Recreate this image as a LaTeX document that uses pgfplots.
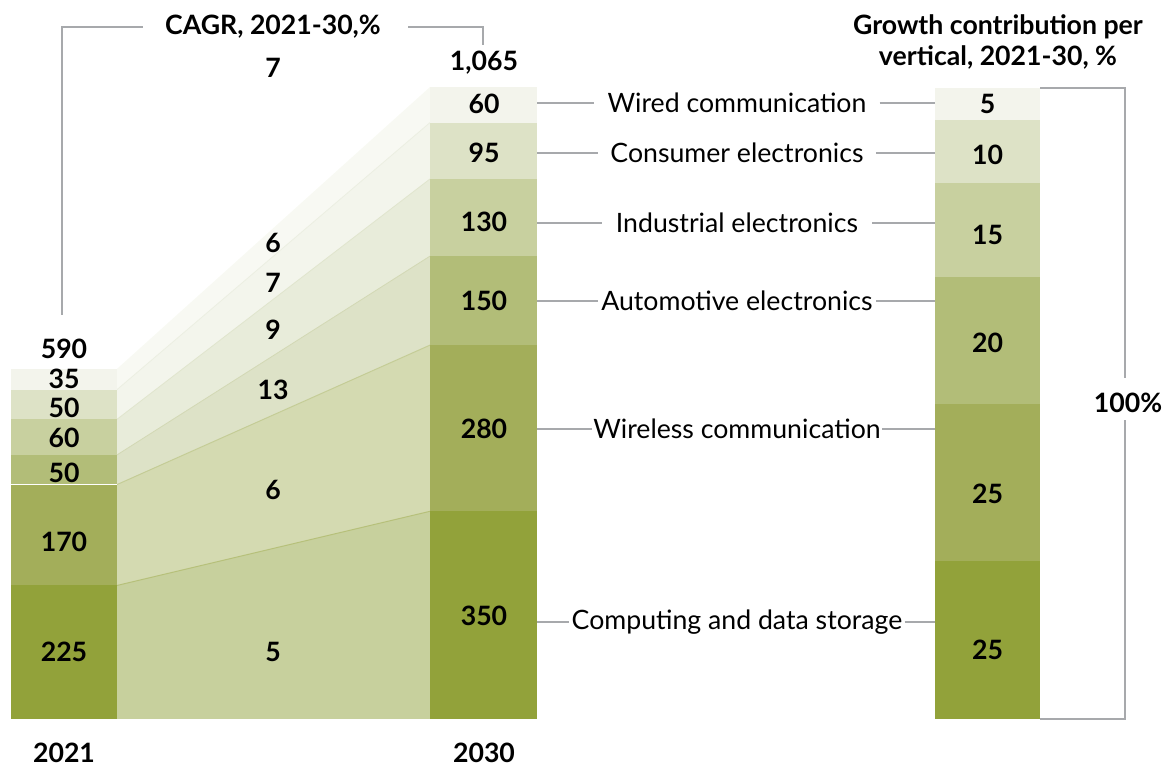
\documentclass[border=0pt]{standalone}
\usepackage{pgfplots}
\pgfplotsset{compat=1.18}
\usepackage{fontspec}
\setmainfont{Lato}
\definecolor{c1}{RGB}{146,162,58}
\definecolor{c2}{RGB}{163,174,90}
\definecolor{c3}{RGB}{178,189,120}
\definecolor{c4}{RGB}{200,208,159}
\definecolor{c5}{RGB}{221,226,198}
\definecolor{c6}{RGB}{243,244,236}
\definecolor{a1}{RGB}{199,208,157}
\definecolor{a2}{RGB}{212,218,177}
\definecolor{a3}{RGB}{221,226,199}
\definecolor{a4}{RGB}{232,236,218}
\definecolor{a5}{RGB}{243,245,236}
\definecolor{a6}{RGB}{248,249,243}
\definecolor{lg}{RGB}{167,169,172}
\pgfplotsset{base/.style={hide axis, scale only axis, width=700.8pt, height=460.2pt,
  xmin=0, xmax=1168, clip=false}}
\tikzset{num/.style={font=\bfseries\fontsize{16}{19}\selectfont, inner sep=0pt},
  lbl/.style={font=\fontsize{16}{19}\selectfont, inner sep=0pt, fill=white},
  gl/.style={draw=lg, line width=1.2pt}}
\begin{document}
\begin{tikzpicture}
% ---------- values axis ----------
\begin{axis}[base, ymin=-80.89, ymax=1211.6]
\path (rel axis cs:0,0) rectangle (rel axis cs:1,1);
% connecting areas
\addplot[fill=a1, draw=none] coordinates {(117,0) (430,0) (430,350) (117,225)} --cycle;
\addplot[fill=a2, draw=none] coordinates {(117,225) (430,350) (430,630) (117,395)} --cycle;
\addplot[fill=a3, draw=none] coordinates {(117,395) (430,630) (430,780) (117,445)} --cycle;
\addplot[fill=a4, draw=none] coordinates {(117,445) (430,780) (430,910) (117,505)} --cycle;
\addplot[fill=a5, draw=none] coordinates {(117,505) (430,910) (430,1005) (117,555)} --cycle;
\addplot[fill=a6, draw=none] coordinates {(117,555) (430,1005) (430,1065) (117,590)} --cycle;
\addplot[draw={rgb,255:red,182;green,192;blue,122}, line width=0.6pt] coordinates {(117,225) (430,350)};
\addplot[draw={rgb,255:red,196;green,204;blue,150}, line width=0.6pt] coordinates {(117,395) (430,630)};
\addplot[draw={rgb,255:red,210;green,216;blue,180}, line width=0.5pt] coordinates {(117,445) (430,780)};
\addplot[draw={rgb,255:red,224;green,229;blue,205}, line width=0.5pt] coordinates {(117,505) (430,910)};
\addplot[draw={rgb,255:red,236;green,239;blue,226}, line width=0.5pt] coordinates {(117,555) (430,1005)};
% 2021 bar
\addplot[fill=c1, draw=none] coordinates {(11,0) (117,0) (117,225) (11,225)} --cycle;
\addplot[fill=c2, draw=none] coordinates {(11,225) (117,225) (117,395) (11,395)} --cycle;
\addplot[fill=c3, draw=none] coordinates {(11,395) (117,395) (117,445) (11,445)} --cycle;
\addplot[fill=c4, draw=none] coordinates {(11,445) (117,445) (117,505) (11,505)} --cycle;
\addplot[fill=c5, draw=none] coordinates {(11,505) (117,505) (117,555) (11,555)} --cycle;
\addplot[fill=c6, draw=none] coordinates {(11,555) (117,555) (117,590) (11,590)} --cycle;
\addplot[draw=white, line width=0.8pt] coordinates {(11,395) (117,395)};
% 2030 bar
\addplot[fill=c1, draw=none] coordinates {(430,0) (537,0) (537,350) (430,350)} --cycle;
\addplot[fill=c2, draw=none] coordinates {(430,350) (537,350) (537,630) (430,630)} --cycle;
\addplot[fill=c3, draw=none] coordinates {(430,630) (537,630) (537,780) (430,780)} --cycle;
\addplot[fill=c4, draw=none] coordinates {(430,780) (537,780) (537,910) (430,910)} --cycle;
\addplot[fill=c5, draw=none] coordinates {(430,910) (537,910) (537,1005) (430,1005)} --cycle;
\addplot[fill=c6, draw=none] coordinates {(430,1005) (537,1005) (537,1065) (430,1065)} --cycle;
% values 2021
\node[num] at (axis cs:64,112.5) {225};
\node[num] at (axis cs:64,298) {170};
\node[num] at (axis cs:64,414) {50};
\node[num] at (axis cs:64,473) {60};
\node[num] at (axis cs:64,524) {50};
\node[num] at (axis cs:64,573) {35};
% values 2030
\node[num] at (axis cs:484,174) {350};
\node[num] at (axis cs:484,489) {280};
\node[num] at (axis cs:484,704) {150};
\node[num] at (axis cs:484,838) {130};
\node[num] at (axis cs:484,954) {95};
\node[num] at (axis cs:484,1036) {60};
\end{axis}
% ---------- growth contribution axis (%) ----------
\begin{axis}[base, ymin=-7.607, ymax=113.95]
\addplot[fill=c1, draw=none] coordinates {(935,0) (1040,0) (1040,25) (935,25)} --cycle;
\addplot[fill=c2, draw=none] coordinates {(935,25) (1040,25) (1040,50) (935,50)} --cycle;
\addplot[fill=c3, draw=none] coordinates {(935,50) (1040,50) (1040,70) (935,70)} --cycle;
\addplot[fill=c4, draw=none] coordinates {(935,70) (1040,70) (1040,85) (935,85)} --cycle;
\addplot[fill=c5, draw=none] coordinates {(935,85) (1040,85) (1040,95) (935,95)} --cycle;
\addplot[fill=c6, draw=none] coordinates {(935,95) (1040,95) (1040,100) (935,100)} --cycle;
\node[num] at (axis cs:987.5,10.9) {25};
\node[num] at (axis cs:987.5,35.7) {25};
\node[num] at (axis cs:987.5,59.6) {20};
\node[num] at (axis cs:987.5,76.7) {15};
\node[num] at (axis cs:987.5,89.4) {10};
\node[num] at (axis cs:987.5,97.4) {5};
\end{axis}
% ---------- annotation axis (pixel coordinates) ----------
\begin{axis}[base, ymin=0, ymax=767, y dir=reverse]
% CAGR header and bracket
\node[num] at (axis cs:273,27) {CAGR, 2021-30,\%};
\draw[gl] (axis cs:62,315) -- (axis cs:62,27) -- (axis cs:143,27);
\draw[gl] (axis cs:408,27) -- (axis cs:483,27) -- (axis cs:483,45);
\node[num] at (axis cs:273,68) {7};
\node[num] at (axis cs:273,243) {6};
\node[num] at (axis cs:273,283) {7};
\node[num] at (axis cs:273,330) {9};
\node[num] at (axis cs:273,390) {13};
\node[num] at (axis cs:273,490) {6};
\node[num] at (axis cs:273,652) {5};
% totals and years
\node[num] at (axis cs:64,349) {590};
\node[num] at (axis cs:484,63) {1,065};
\node[num] at (axis cs:64,753) {2021};
\node[num] at (axis cs:484,753) {2030};
% growth header
\node[num, align=center] at (axis cs:998,42) {Growth contribution per\\vertical, 2021-30, \%};
% right bracket
\draw[gl] (axis cs:1040,88) -- (axis cs:1125,88) -- (axis cs:1125,378);
\draw[gl] (axis cs:1125,420) -- (axis cs:1125,719) -- (axis cs:1040,719);
\node[num] at (axis cs:1128,403) {100\%};
% vertical labels with connectors
\foreach \yy/\txt/\g in {103/Wired communication/13, 153/Consumer electronics/12, 223/Industrial electronics/14, 301/Automotive electronics/3, 429/Wireless communication/1, 622/Computing and data storage/2}{
  \edef\temp{\noexpand\node[lbl] (L) at (axis cs:737,\yy) {\txt};}
  \temp
  \edef\temp{\noexpand\draw[gl] (axis cs:537,\yy) -- ([xshift=-\g*0.6pt]L.west);
    \noexpand\draw[gl] ([xshift=\g*0.6pt]L.east) -- (axis cs:935,\yy);}
  \temp
}
\end{axis}
\end{tikzpicture}
\end{document}
